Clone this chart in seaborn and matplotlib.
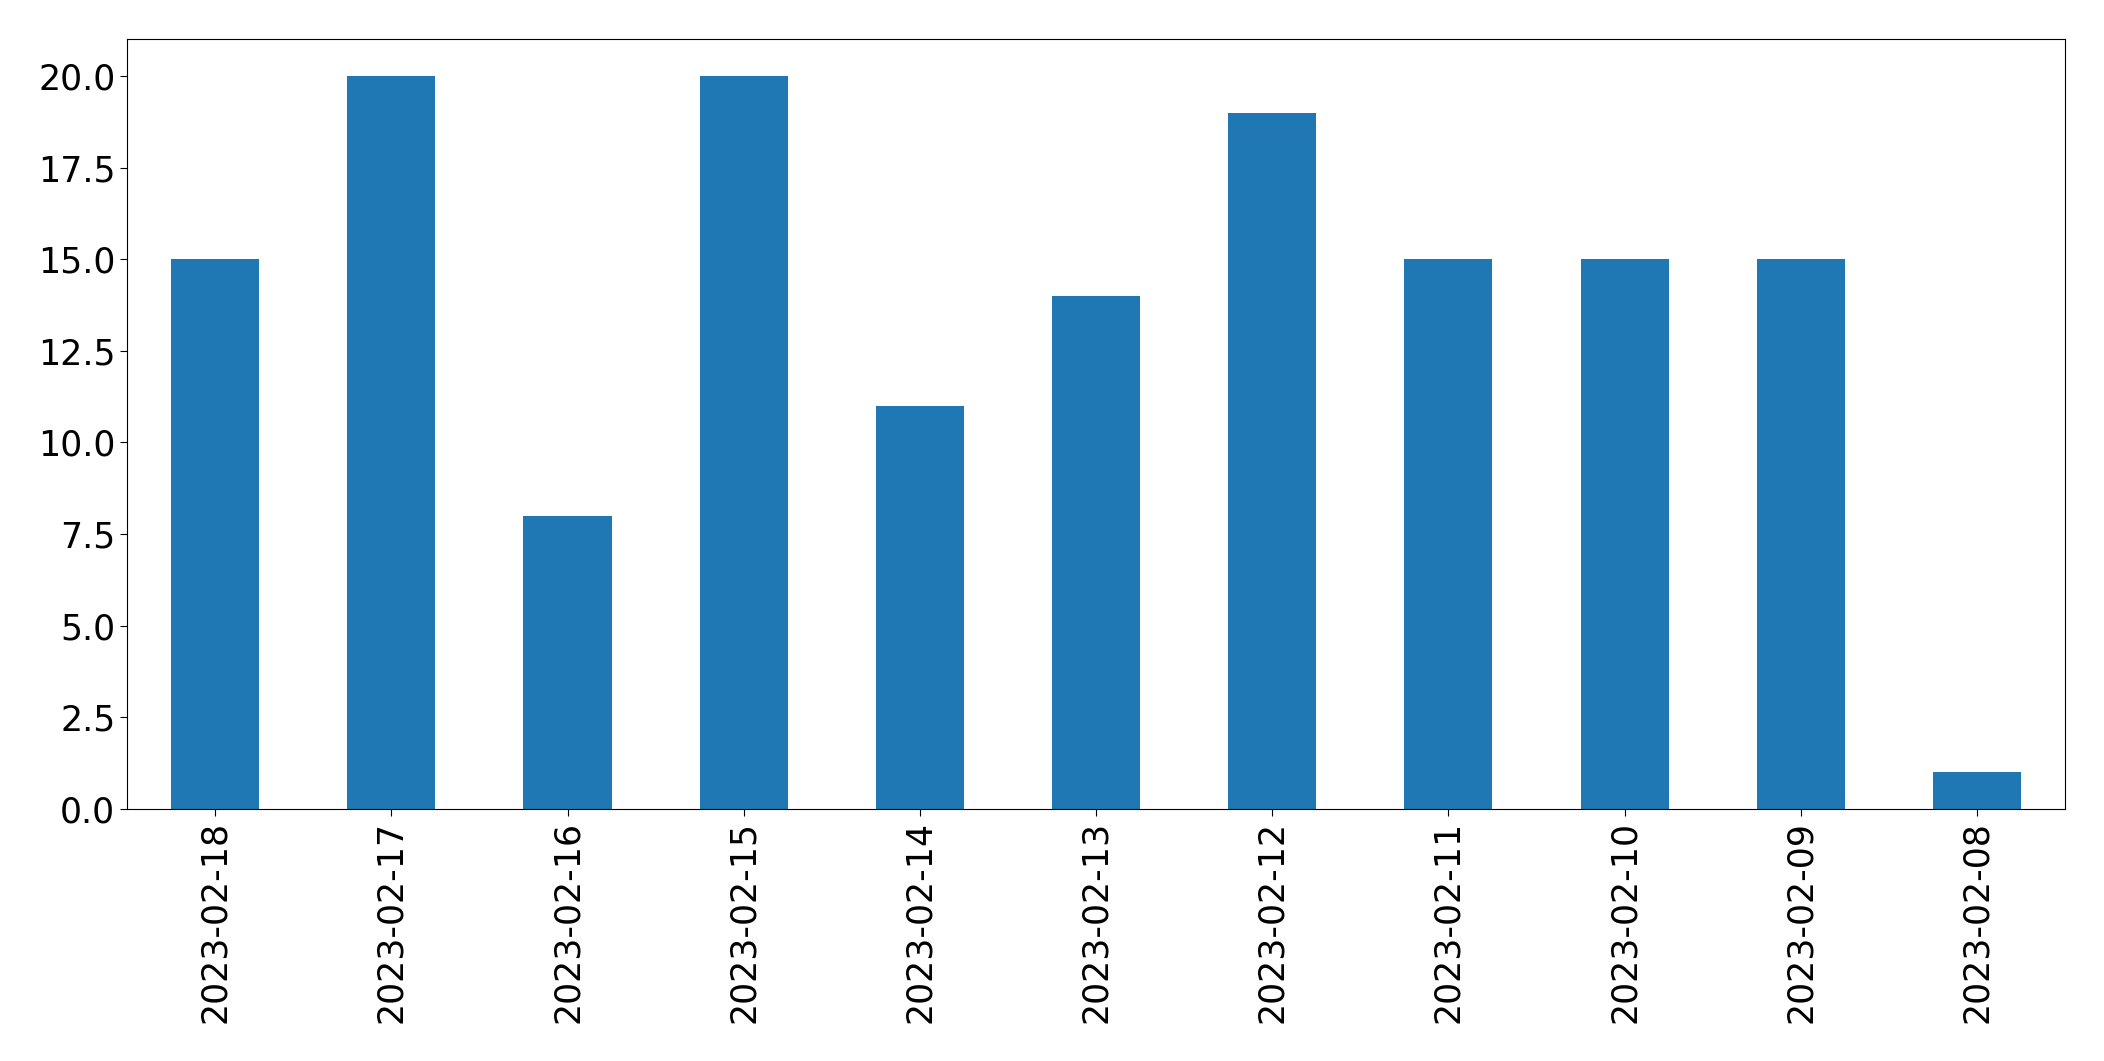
import matplotlib
matplotlib.use("Agg")
import matplotlib.pyplot as plt
import seaborn as sns
import pandas as pd

dates = ['2023-02-18', '2023-02-17', '2023-02-16', '2023-02-15', '2023-02-14',
         '2023-02-13', '2023-02-12', '2023-02-11', '2023-02-10', '2023-02-09',
         '2023-02-08']
counts = [15, 20, 8, 20, 11, 14, 19, 15, 15, 15, 1]

df = pd.DataFrame({'date': dates, 'count': counts})

fig, ax = plt.subplots(figsize=(21.04, 10.61), dpi=100)
fig.subplots_adjust(left=0.0604, right=0.9815, top=0.963, bottom=0.2375)

sns.barplot(data=df, x='date', y='count', color='#1f77b4', saturation=1,
            width=0.5, linewidth=0, ax=ax)

ax.set_xlim(-0.5, len(dates) - 0.5)
ax.set_ylim(0, 21)
ax.set_xlabel('')
ax.set_ylabel('')
for s in ax.spines.values():
    s.set_color('black')
ax.tick_params(axis='both', labelsize=25, length=5, colors='black')
ax.tick_params(axis='x', labelrotation=90)
ax.set_yticks([0, 2.5, 5, 7.5, 10, 12.5, 15, 17.5, 20])
ax.set_yticklabels(['0.0', '2.5', '5.0', '7.5', '10.0', '12.5', '15.0', '17.5', '20.0'])

fig.savefig('out.png', dpi=100)
